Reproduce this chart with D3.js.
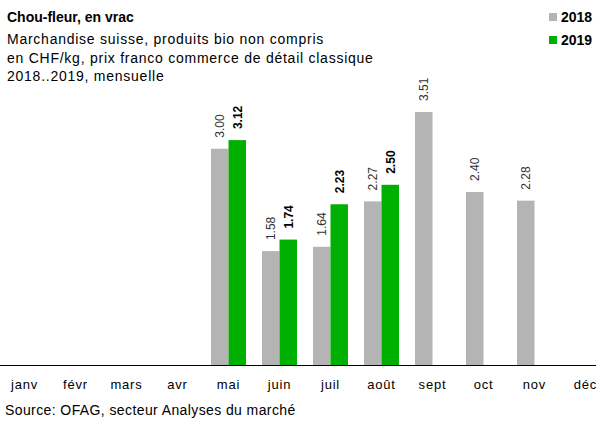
<!DOCTYPE html>
<html lang='fr'>
<head>
	<meta charset='UTF-8'/>
	<title>Chou-fleur, en vrac</title>
	<script src='https://cdn.jsdelivr.net/npm/d3@7'></script>
	<style>
		body {margin: 0; background: #fff;}
		svg {display: block; font-family: 'Liberation Sans', Arial, sans-serif;}
	</style>
</head>
<body>
	<div class='chart'></div>
	<script>
		// data
		const MONTHS = ['janv', 'févr', 'mars', 'avr', 'mai', 'juin', 'juil', 'août', 'sept', 'oct', 'nov', 'déc'];
		const SERIES = ['2018', '2019'];
		const values2018 = [null, null, null, null, 3.00, 1.58, 1.64, 2.27, 3.51, 2.40, 2.28, null];
		const values2019 = [null, null, null, null, 3.12, 1.74, 2.23, 2.50, null, null, null, null];
		const COLOURS = {'2018': '#b4b4b4', '2019': '#00b000'};

		const width = 596, height = 421;
		const base = 365;

		const svg = d3.select('.chart')
			.append('svg')
			.attr('width', width)
			.attr('height', height);

		const x = d3.scaleBand().domain(MONTHS).range([-1, 611]);
		const xs = d3.scaleBand().domain(SERIES).range([x.bandwidth() / 2 - 17.5, x.bandwidth() / 2 + 17.5]);
		const y = d3.scaleLinear().domain([0, 3.51]).range([base, 112]);

		const rows = [];
		MONTHS.forEach((m, i) => {
			if (values2018[i] != null) rows.push({month: m, year: '2018', v: values2018[i]});
			if (values2019[i] != null) rows.push({month: m, year: '2019', v: values2019[i]});
		});

		// bars
		svg.selectAll('rect.bar')
			.data(rows)
			.enter()
			.append('rect')
			.attr('class', 'bar')
			.attr('x', d => x(d.month) + xs(d.year))
			.attr('y', d => y(d.v))
			.attr('width', xs.bandwidth())
			.attr('height', d => base - y(d.v))
			.style('fill', d => COLOURS[d.year]);

		// value labels, rotated
		svg.selectAll('text.val')
			.data(rows)
			.enter()
			.append('text')
			.attr('class', 'val')
			.attr('transform', d => 'translate(' + (x(d.month) + xs(d.year) + xs.bandwidth() / 2 + 4.5) + ',' + (y(d.v) - 11) + ') rotate(-90)')
			.style('font-size', '12px')
			.style('font-weight', d => d.year === '2019' ? 'bold' : 'normal')
			.style('fill', d => d.year === '2019' ? '#000' : '#333')
			.text(d => d.v.toFixed(2));

		// x axis
		svg.append('line')
			.attr('x1', 0).attr('x2', width)
			.attr('y1', base + 0.5).attr('y2', base + 0.5)
			.style('stroke', '#000')
			.style('stroke-width', 1);
		svg.selectAll('text.month')
			.data(MONTHS)
			.enter()
			.append('text')
			.attr('class', 'month')
			.attr('x', d => x(d) + x.bandwidth() / 2)
			.attr('y', 389)
			.attr('text-anchor', 'middle')
			.style('font-size', '13px')
			.style('letter-spacing', '0.8px')
			.text(d => d);

		// titles
		svg.append('text')
			.attr('x', 7).attr('y', 22)
			.style('font-size', '14px')
			.style('font-weight', 'bold')
			.text('Chou-fleur, en vrac');
		const sub = ['Marchandise suisse, produits bio non compris',
			'en CHF/kg,  prix franco commerce de détail classique',
			'2018..2019, mensuelle'];
		svg.selectAll('text.sub')
			.data(sub)
			.enter()
			.append('text')
			.attr('class', 'sub')
			.attr('x', 7)
			.attr('y', (d, i) => 44 + i * 18.5)
			.style('font-size', '14px')
			.style('letter-spacing', '0.75px')
			.text(d => d);

		// legend
		const legend = svg.append('g');
		SERIES.forEach((s, i) => {
			legend.append('rect')
				.attr('x', 549).attr('y', 13 + i * 23)
				.attr('width', 8).attr('height', 8)
				.style('fill', COLOURS[s]);
			legend.append('text')
				.attr('x', 561).attr('y', 22 + i * 23)
				.style('font-size', '14px')
				.style('font-weight', 'bold')
				.text(s);
		});

		// source
		svg.append('text')
			.attr('x', 5).attr('y', 415)
			.style('font-size', '14px')
			.style('letter-spacing', '0.4px')
			.text('Source:  OFAG, secteur Analyses du marché');
	</script>
</body>
</html>
